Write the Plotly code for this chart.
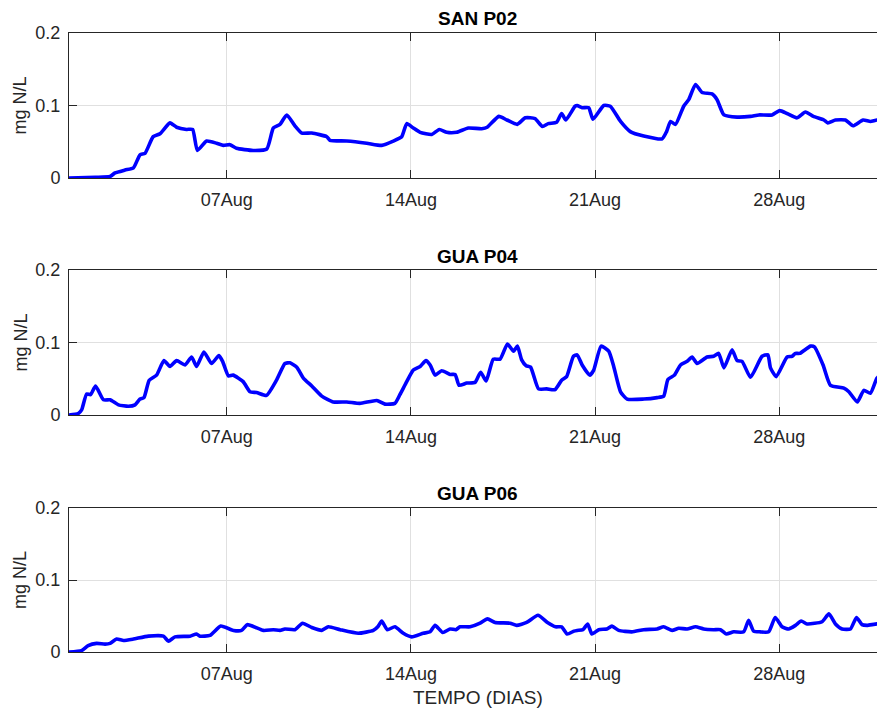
import pandas as pd
import plotly.graph_objects as go
from plotly.subplots import make_subplots

START = "2019-08-01"
panel_titles = ["SAN P02", "GUA P04", "GUA P06"]
y_label = "mg N/L"
x_label = "TEMPO (DIAS)"
tick_dates = ["2019-08-07", "2019-08-14", "2019-08-21", "2019-08-28"]
y_ticks = [0, 0.1, 0.2]

# day offsets from 01 Aug and values (mg N/L)
san_p02_days = [0, 1.0, 1.56, 1.75, 2.13, 2.45, 2.7, 2.89, 3.2, 3.46, 3.84, 4.09, 4.47, 4.7, 4.88, 5.23,
                5.61, 5.87, 6.12, 6.37, 7.0, 7.52, 7.77, 8.02, 8.28, 8.59, 8.85, 9.23, 9.8, 9.92, 10.56,
                11.32, 11.89, 12.33, 12.65, 12.84, 13.09, 13.35, 13.79, 14.08, 14.36, 14.74, 15.18, 15.69,
                15.9, 16.34, 16.65, 17.04, 17.35, 17.72, 18.0, 18.22, 18.54, 18.73, 18.89, 19.24, 19.32,
                19.51, 19.76, 19.92, 20.33, 20.58, 20.97, 21.34, 21.85, 22.55, 22.72, 22.87, 23.06, 23.37,
                23.56, 23.82, 24.07, 24.45, 24.64, 24.9, 25.4, 25.91, 26.23, 26.73, 27.02, 27.3, 27.68,
                28.0, 28.3, 28.7, 28.85, 29.14, 29.52, 29.81, 30.19, 30.47, 30.72, 31.0]
san_p02_vals = [0, 0.001, 0.002, 0.007, 0.011, 0.014, 0.032, 0.034, 0.057, 0.061, 0.076, 0.070, 0.067,
                0.067, 0.038, 0.051, 0.048, 0.045, 0.046, 0.041, 0.038, 0.040, 0.069, 0.074, 0.087, 0.072,
                0.062, 0.062, 0.057, 0.052, 0.051, 0.048, 0.045, 0.051, 0.057, 0.075, 0.069, 0.063, 0.060,
                0.067, 0.063, 0.063, 0.069, 0.068, 0.070, 0.085, 0.080, 0.074, 0.083, 0.082, 0.071, 0.075,
                0.077, 0.089, 0.080, 0.099, 0.100, 0.097, 0.097, 0.081, 0.100, 0.099, 0.078, 0.064, 0.058,
                0.054, 0.064, 0.078, 0.074, 0.099, 0.108, 0.129, 0.118, 0.116, 0.108, 0.087, 0.084, 0.085,
                0.087, 0.087, 0.093, 0.089, 0.083, 0.091, 0.085, 0.080, 0.076, 0.080, 0.080, 0.072, 0.080,
                0.078, 0.080, 0.079]

gua_p04_days = [0, 0.35, 0.48, 0.67, 0.82, 1.01, 1.31, 1.56, 1.88, 2.26, 2.51, 2.7, 2.85, 3.05, 3.33,
                3.61, 3.84, 4.09, 4.41, 4.66, 4.85, 5.13, 5.42, 5.7, 5.84, 6.06, 6.24, 6.62, 6.88, 7.13,
                7.51, 7.89, 8.21, 8.4, 8.66, 8.91, 9.23, 9.61, 10.05, 10.56, 11.06, 11.7, 12.01, 12.39,
                12.58, 12.84, 13.09, 13.35, 13.57, 13.73, 13.92, 14.17, 14.49, 14.68, 14.83, 15.12, 15.44,
                15.65, 15.86, 16.13, 16.39, 16.67, 16.9, 17.05, 17.21, 17.38, 17.55, 17.85, 18.16, 18.48,
                18.73, 18.92, 19.18, 19.32, 19.51, 19.8, 19.95, 20.23, 20.52, 20.71, 20.97, 21.22, 21.85,
                22.36, 22.61, 22.77, 23.02, 23.25, 23.5, 23.69, 23.88, 24.26, 24.51, 24.7, 24.9, 25.21,
                25.4, 25.59, 25.91, 26.35, 26.57, 26.67, 26.89, 27.3, 27.49, 27.62, 27.78, 28.19, 28.34,
                28.67, 28.95, 29.46, 29.65, 29.97, 30.22, 30.47, 30.72, 31.0]
gua_p04_vals = [0, 0.002, 0.007, 0.029, 0.028, 0.040, 0.021, 0.021, 0.014, 0.012, 0.014, 0.022, 0.024,
                0.048, 0.055, 0.075, 0.067, 0.075, 0.069, 0.080, 0.067, 0.087, 0.071, 0.082, 0.074, 0.054,
                0.055, 0.046, 0.032, 0.031, 0.027, 0.048, 0.071, 0.072, 0.066, 0.051, 0.040, 0.026, 0.018,
                0.018, 0.016, 0.020, 0.015, 0.016, 0.028, 0.046, 0.062, 0.067, 0.075, 0.069, 0.055, 0.061,
                0.056, 0.056, 0.041, 0.044, 0.045, 0.059, 0.047, 0.077, 0.077, 0.098, 0.088, 0.095, 0.076,
                0.068, 0.066, 0.036, 0.036, 0.035, 0.048, 0.053, 0.081, 0.083, 0.069, 0.055, 0.062, 0.095,
                0.088, 0.067, 0.032, 0.022, 0.022, 0.024, 0.026, 0.049, 0.055, 0.069, 0.074, 0.080, 0.071,
                0.080, 0.081, 0.085, 0.065, 0.090, 0.075, 0.074, 0.052, 0.081, 0.083, 0.065, 0.053, 0.080,
                0.081, 0.085, 0.085, 0.095, 0.094, 0.069, 0.041, 0.037, 0.032, 0.018, 0.034, 0.030, 0.051,
                0.060]

gua_p06_days = [0, 0.48, 0.73, 1.05, 1.37, 1.56, 1.81, 2.07, 2.45, 3.02, 3.59, 3.78, 4.03, 4.6, 4.85,
                4.98, 5.36, 5.77, 6.25, 6.56, 6.78, 7.39, 7.77, 8.02, 8.21, 8.59, 8.88, 9.23, 9.61, 9.86,
                10.31, 11.0, 11.57, 11.74, 11.89, 12.1, 12.39, 12.71, 13.03, 13.47, 13.73, 13.92, 14.21,
                14.49, 14.71, 14.87, 15.25, 15.63, 15.91, 16.2, 16.77, 17.02, 17.4, 17.83, 18.19, 18.5,
                18.73, 18.94, 19.2, 19.32, 19.54, 19.72, 19.88, 20.14, 20.45, 20.64, 20.9, 21.4, 21.85,
                22.36, 22.61, 22.93, 23.18, 23.5, 23.82, 24.13, 24.51, 24.77, 24.99, 25.27, 25.65, 25.84,
                26.03, 26.28, 26.6, 26.85, 27.11, 27.36, 27.62, 27.84, 28.06, 28.63, 28.89, 29.14, 29.39,
                29.71, 29.94, 30.15, 30.34, 30.72, 31.0]
gua_p06_vals = [0, 0.002, 0.009, 0.012, 0.011, 0.012, 0.018, 0.016, 0.018, 0.022, 0.022, 0.015, 0.021,
                0.022, 0.025, 0.022, 0.023, 0.036, 0.030, 0.030, 0.038, 0.030, 0.031, 0.030, 0.032, 0.031,
                0.040, 0.034, 0.030, 0.035, 0.031, 0.026, 0.030, 0.035, 0.043, 0.031, 0.035, 0.026, 0.021,
                0.026, 0.028, 0.037, 0.027, 0.032, 0.031, 0.035, 0.035, 0.040, 0.046, 0.041, 0.040, 0.037,
                0.041, 0.051, 0.041, 0.035, 0.035, 0.025, 0.029, 0.030, 0.031, 0.039, 0.025, 0.031, 0.032,
                0.036, 0.030, 0.028, 0.031, 0.032, 0.035, 0.030, 0.033, 0.032, 0.035, 0.032, 0.031, 0.031,
                0.025, 0.028, 0.028, 0.044, 0.029, 0.028, 0.028, 0.048, 0.035, 0.032, 0.037, 0.043, 0.039,
                0.042, 0.053, 0.039, 0.032, 0.032, 0.048, 0.038, 0.037, 0.039, 0.038]

visible_days = 30.72

series = [(san_p02_days, san_p02_vals), (gua_p04_days, gua_p04_vals), (gua_p06_days, gua_p06_vals)]

start = pd.Timestamp(START)
x_end = start + pd.Timedelta(days=visible_days)

# layout geometry (pixels)
W, H = 877, 710
ML, MR, MT, MB = 69, 0, 33, 58
PH = H - MT - MB
panels_px = [(33, 178), (270, 415), (508, 652)]


def py2paper(p):
    return (H - MB - p) / PH


fig = make_subplots(rows=3, cols=1, shared_xaxes=False)

AX = "#262626"
GRID = "#e0e0e0"
FONT = "Liberation Sans, Arial, Helvetica, sans-serif"

for i, (days, vals) in enumerate(series):
    x = [start + pd.Timedelta(days=d) for d in days]
    fig.add_trace(go.Scatter(x=x, y=vals, mode="lines",
                             line=dict(color="#0000ff", width=3.6, shape="spline", smoothing=0.5),
                             showlegend=False, hoverinfo="skip"), row=i + 1, col=1)
    top, bot = panels_px[i]
    xa = "xaxis" if i == 0 else f"xaxis{i+1}"
    ya = "yaxis" if i == 0 else f"yaxis{i+1}"
    fig.layout[ya].update(domain=[py2paper(bot), py2paper(top)], range=[0, 0.2], tickvals=y_ticks,
                          ticktext=["0", "0.1", "0.2"], ticks="inside", ticklen=8, tickcolor=AX,
                          showline=True, linecolor=AX, linewidth=1, mirror=False,
                          showgrid=True, gridcolor=GRID, gridwidth=1, zeroline=False,
                          tickfont=dict(family=FONT, size=18, color=AX), ticklabelstandoff=4)
    fig.layout[xa].update(range=[start, x_end], tickvals=[pd.Timestamp(t) for t in tick_dates],
                          tickformat="%d%b", ticks="inside", ticklen=8, tickcolor=AX,
                          showline=True, linecolor=AX, linewidth=1, mirror="ticks",
                          showgrid=True, gridcolor=GRID, gridwidth=1, zeroline=False,
                          tickfont=dict(family=FONT, size=18, color=AX), ticklabelstandoff=5)
    # title
    title_centers = [19, 256, 493]
    fig.add_annotation(text=f"<b>{panel_titles[i]}</b>", xref="paper", yref="paper",
                       x=(477 - ML) / (W - ML - MR), y=py2paper(title_centers[i]),
                       xanchor="center", yanchor="middle", showarrow=False,
                       font=dict(family=FONT, size=19, color="#000000"))
    # y label
    fig.add_annotation(text=y_label, xref="paper", yref="paper",
                       x=(20 - ML) / (W - ML - MR), y=py2paper((top + bot) / 2),
                       xanchor="center", yanchor="middle", textangle=-90, showarrow=False,
                       font=dict(family=FONT, size=18, color=AX))

fig.add_annotation(text=x_label, xref="paper", yref="paper",
                   x=(478 - ML) / (W - ML - MR), y=py2paper(697),
                   xanchor="center", yanchor="middle", showarrow=False,
                   font=dict(family=FONT, size=19, color=AX))

fig.update_layout(width=W, height=H, margin=dict(l=ML, r=MR, t=MT, b=MB),
                  plot_bgcolor="white", paper_bgcolor="white", showlegend=False)

fig.write_html("out.html", config={"displayModeBar": False},
               post_script="document.body.style.margin='0';document.body.style.overflow='hidden';")
